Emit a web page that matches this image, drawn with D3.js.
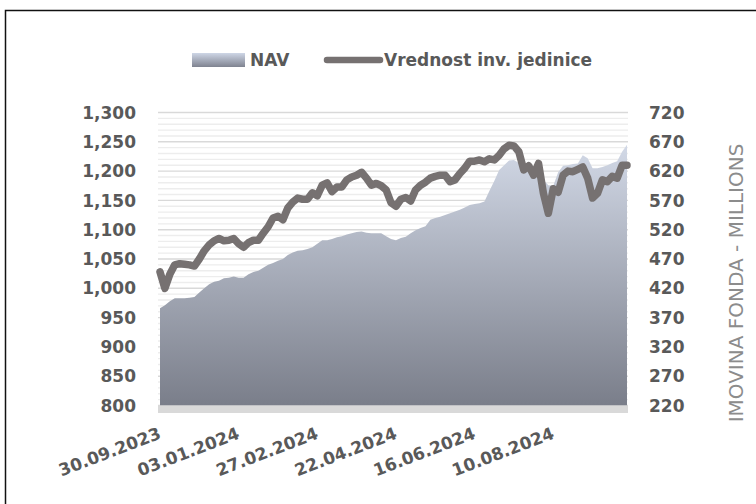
<!DOCTYPE html>
<meta charset="utf-8">
<style>
  body { margin: 0; background: #fff; }
  svg { display: block; }
  text { font-family: "DejaVu Sans", sans-serif; }
</style>
<body>
<svg width="756" height="504"></svg>
<script src="https://d3js.org/d3.v7.min.js"></script>
<script>
  // tick labels shown on the category axis (one every 16 points)
  var dateLabels = ["30.09.2023", "03.01.2024", "27.02.2024", "22.04.2024", "16.06.2024", "10.08.2024"];
  var labelStep = 16;

  // Vrednost inv. jedinice (left axis)
  var unitValue = [
    1028, 1000, 1024, 1040, 1042, 1041, 1040, 1038, 1050, 1064,
    1074, 1081, 1085, 1081, 1082, 1085, 1076, 1070, 1078, 1082,
    1082, 1094, 1105, 1120, 1123, 1117, 1137, 1147, 1154, 1152,
    1152, 1163, 1158, 1176, 1180, 1165, 1173, 1173, 1185, 1190,
    1193, 1198, 1188, 1176, 1179, 1175, 1168, 1146, 1140, 1152,
    1155, 1149, 1168, 1176, 1181, 1188, 1191, 1193, 1193, 1182,
    1185, 1196, 1205, 1217, 1217, 1219, 1216, 1221, 1219, 1227,
    1238, 1244, 1243, 1233, 1202, 1209, 1193, 1213, 1162, 1128,
    1170, 1164, 1193, 1200, 1199, 1203, 1207, 1188, 1154, 1162,
    1185, 1182, 1191, 1188, 1210, 1210
  ];

  // NAV in millions (right axis)
  var navMillions = [
    386, 391, 398, 403, 403, 403, 404, 405, 413, 420,
    427, 431, 433, 437, 438, 440, 438, 438, 444, 448,
    450, 455, 460, 463, 467, 470, 477, 481, 484, 485,
    487, 490, 496, 502, 502, 504, 507, 509, 512, 514,
    516, 517, 515, 514, 514, 514, 509, 504, 502, 506,
    508, 514, 519, 523, 526, 537, 540, 542, 545, 548,
    551, 554, 558, 562, 564, 565, 568, 586, 603, 622,
    630, 638, 639, 634, 630, 627, 625, 618, 605, 596,
    595, 618, 629, 630, 632, 633, 647, 642, 625, 625,
    627, 630, 634, 637, 653, 665
  ];

  var leftTicks = d3.range(800, 1301, 50);
  var rightTicks = d3.range(220, 721, 50);

  var svg = d3.select("svg");
  var textColor = "#595959";

  var x = d3.scaleLinear().domain([0, unitValue.length - 1]).range([160, 627]);
  var yLeft = d3.scaleLinear().domain([800, 1300]).range([405.5, 112.5]);
  var yRight = d3.scaleLinear().domain([220, 720]).range([405.5, 112.5]);

  var defs = svg.append("defs");
  var grad = defs.append("linearGradient")
    .attr("id", "navFill")
    .attr("gradientUnits", "userSpaceOnUse")
    .attr("x1", 0).attr("x2", 0)
    .attr("y1", yRight(720)).attr("y2", yRight(220));
  grad.append("stop").attr("offset", 0).attr("stop-color", "#dde4f2");
  grad.append("stop").attr("offset", 1).attr("stop-color", "#7a7e8a");

  var legGrad = defs.append("linearGradient")
    .attr("id", "legFill")
    .attr("x1", 0).attr("x2", 0).attr("y1", 0).attr("y2", 1);
  legGrad.append("stop").attr("offset", 0).attr("stop-color", "#ced6e6");
  legGrad.append("stop").attr("offset", 1).attr("stop-color", "#7f8390");

  // chart border
  svg.append("rect")
    .attr("x", 5.5).attr("y", 10.5)
    .attr("width", 800).attr("height", 600)
    .attr("fill", "none")
    .attr("stroke", "#111")
    .attr("stroke-width", 1.5);

  // grid: minor every 10, major every 50
  var grid = svg.append("g");
  grid.selectAll("line.minor")
    .data(d3.range(800, 1301, 10).filter(function(d) { return d % 50 != 0; }))
    .enter().append("line")
    .attr("class", "minor")
    .attr("x1", 158).attr("x2", 628)
    .attr("y1", function(d) { return yLeft(d); })
    .attr("y2", function(d) { return yLeft(d); })
    .attr("stroke", "#ededed")
    .attr("stroke-width", 1.4);
  grid.selectAll("line.major")
    .data(leftTicks)
    .enter().append("line")
    .attr("class", "major")
    .attr("x1", 158).attr("x2", 628)
    .attr("y1", function(d) { return yLeft(d); })
    .attr("y2", function(d) { return yLeft(d); })
    .attr("stroke", "#d9d9d9")
    .attr("stroke-width", 1.4);

  // NAV area
  var area = d3.area()
    .x(function(d, i) { return x(i); })
    .y0(yRight(220))
    .y1(function(d) { return yRight(d); });
  svg.append("path")
    .datum(navMillions)
    .attr("d", area)
    .attr("fill", "url(#navFill)");

  // floor band under the plot
  svg.append("rect")
    .attr("x", 158).attr("y", yLeft(800))
    .attr("width", 470).attr("height", 7.5)
    .attr("fill", "#d9d9d9");

  // unit value line
  var line = d3.line()
    .x(function(d, i) { return x(i); })
    .y(function(d) { return yLeft(d); });
  svg.append("path")
    .datum(unitValue)
    .attr("d", line)
    .attr("fill", "none")
    .attr("stroke", "#767171")
    .attr("stroke-width", 7.5)
    .attr("stroke-linejoin", "round")
    .attr("stroke-linecap", "round");

  // left axis labels
  svg.append("g").selectAll("text")
    .data(leftTicks)
    .enter().append("text")
    .attr("x", 136)
    .attr("y", function(d) { return yLeft(d); })
    .attr("dy", "0.36em")
    .attr("text-anchor", "end")
    .attr("font-size", 17)
    .attr("font-weight", "bold")
    .attr("fill", textColor)
    .text(d3.format(","));

  // right axis labels
  svg.append("g").selectAll("text")
    .data(rightTicks)
    .enter().append("text")
    .attr("x", 649)
    .attr("y", function(d) { return yRight(d); })
    .attr("dy", "0.36em")
    .attr("text-anchor", "start")
    .attr("font-size", 17)
    .attr("font-weight", "bold")
    .attr("fill", textColor)
    .text(function(d) { return d; });

  // right axis title
  svg.append("text")
    .attr("transform", "translate(743,283) rotate(-90)")
    .attr("text-anchor", "middle")
    .attr("font-size", 20)
    .attr("fill", "#8c8c8c")
    .text("IMOVINA FONDA - MILLIONS");

  // date labels
  svg.append("g").selectAll("text")
    .data(dateLabels)
    .enter().append("text")
    .attr("transform", function(d, i) {
      return "translate(" + (x(i * labelStep) + 2) + ",438) rotate(-21)";
    })
    .attr("text-anchor", "end")
    .attr("font-size", 17)
    .attr("font-weight", "bold")
    .attr("fill", textColor)
    .text(function(d) { return d; });

  // legend
  var legend = svg.append("g");
  legend.append("rect")
    .attr("x", 192).attr("y", 53)
    .attr("width", 53).attr("height", 14)
    .attr("fill", "url(#legFill)");
  legend.append("text")
    .attr("x", 250).attr("y", 66)
    .attr("font-size", 17)
    .attr("font-weight", "bold")
    .attr("fill", textColor)
    .text("NAV");
  legend.append("line")
    .attr("x1", 327).attr("x2", 380)
    .attr("y1", 60).attr("y2", 60)
    .attr("stroke", "#767171")
    .attr("stroke-width", 6.5)
    .attr("stroke-linecap", "round");
  legend.append("text")
    .attr("x", 384).attr("y", 66)
    .attr("font-size", 17)
    .attr("font-weight", "bold")
    .attr("fill", textColor)
    .text("Vrednost inv. jedinice");
</script>
</body>
